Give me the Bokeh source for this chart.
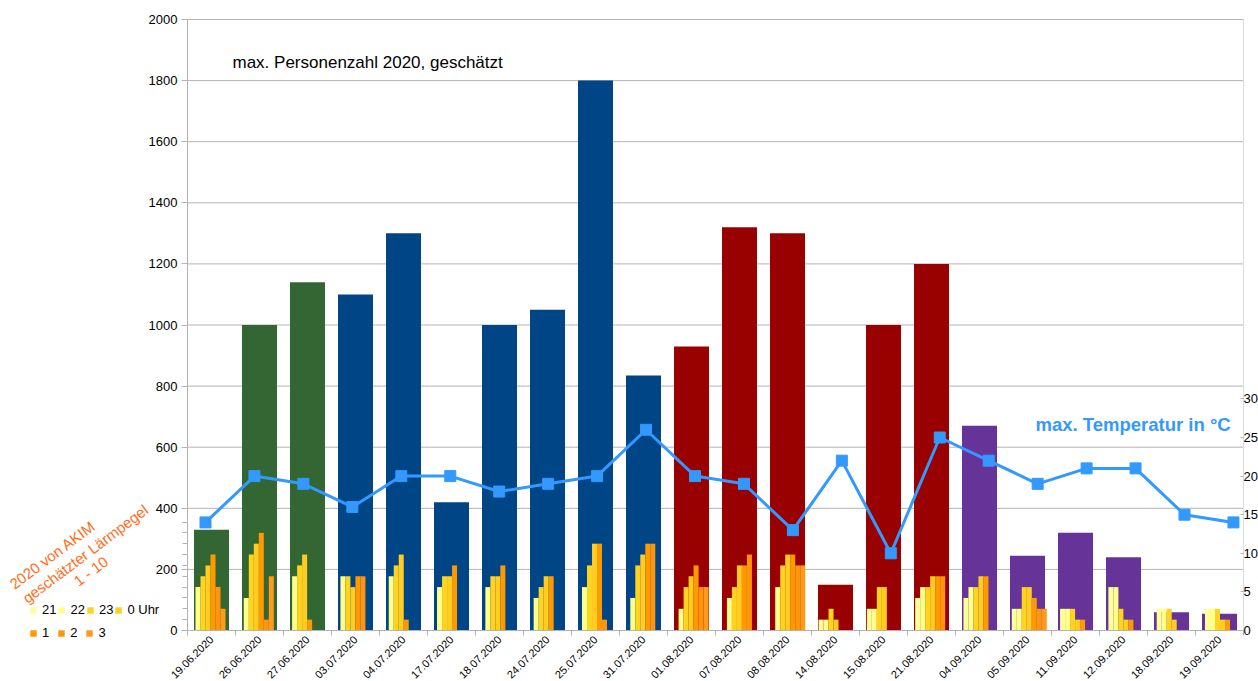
import math
from bokeh.plotting import figure
from bokeh.models import (Range1d, LinearAxis, FixedTicker, Label, Legend,
                          LegendItem)
from bokeh.embed import file_html
from bokeh.resources import INLINE

# ---------------- data ----------------
dates = ["19.06.2020", "26.06.2020", "27.06.2020", "03.07.2020", "04.07.2020",
         "17.07.2020", "18.07.2020", "24.07.2020", "25.07.2020", "31.07.2020",
         "01.08.2020", "07.08.2020", "08.08.2020", "14.08.2020", "15.08.2020",
         "21.08.2020", "04.09.2020", "05.09.2020", "11.09.2020", "12.09.2020",
         "18.09.2020", "19.09.2020"]
personen = [330, 1000, 1140, 1100, 1300, 420, 1000, 1050, 1800, 835,
            930, 1320, 1300, 150, 1000, 1200, 670, 245, 320, 240, 60, 55]
temperatur = [14, 20, 19, 16, 20, 20, 18, 19, 20, 26,
              20, 19, 13, 22, 10, 25, 22, 19, 21, 21, 15, 14]
laerm_labels = ["21", "22", "23", "0 Uhr", "1", "2", "3"]
laerm_21 = [0, 0, 0, 0, 0, 0, 0, 0, 0, 0, 0, 0, 0, 1, 2, 3, 3, 2, 2, 4, 2, 2]
laerm_22 = [4, 3, 5, 5, 5, 4, 4, 3, 4, 3, 2, 3, 4, 1, 2, 4, 4, 2, 2, 4, 2, 2]
laerm_23 = [5, 7, 6, 5, 6, 5, 5, 4, 6, 6, 4, 4, 6, 2, 4, 4, 4, 4, 2, 2, 2, 2]
laerm_00 = [6, 8, 7, 4, 7, 5, 5, 5, 8, 7, 5, 6, 7, 1, 4, 5, 5, 4, 1, 1, 1, 1]
laerm_01 = [7, 9, 1, 5, 1, 6, 6, 5, 8, 8, 6, 6, 7, 0, 0, 5, 5, 3, 1, 1, 0, 1]
laerm_02 = [4, 1, 0, 5, 0, 0, 0, 0, 1, 8, 4, 7, 6, 0, 0, 5, 0, 2, 0, 0, 0, 0]
laerm_03 = [2, 5, 0, 0, 0, 0, 0, 0, 0, 0, 4, 0, 6, 0, 0, 0, 0, 2, 0, 0, 0, 0]
laerm = [laerm_21, laerm_22, laerm_23, laerm_00, laerm_01, laerm_02, laerm_03]
y_ticks = list(range(0, 2001, 200))
temp_ticks = list(range(0, 31, 5))
title_main = "max. Personenzahl 2020, geschätzt"
title_temp = "max. Temperatur in °C"
title_laerm = ["2020 von AKIM", "geschätzter Lärmpegel", "1 - 10"]

# ---------------- styles / geometry (pixels) ----------------
FONT = "Liberation Sans"
month_colors = {"06": "#336633", "07": "#004586", "08": "#990000", "09": "#663399"}
laerm_colors = ["#ffff99", "#ffff8c", "#ffd320", "#ffcc22", "#ff9900", "#ff950e", "#ff9a1a"]
TEMP_COLOR = "#3399ff"
NOTE_COLOR = "#ff6d1a"
GRID = "#b3b3b3"

W, H = 1258, 681
F_L, F_R, F_T, F_B = 187, 1243, 19, 630      # plot area of the main chart
T_PX = 7.72                                   # pixels per °C (secondary chart)
N_PX = 10.85                                  # pixels per noise level (overlay chart)
TX_FIRST, TX_STEP = 205, 48.95                # temperature chart category layout
NX_FIRST, NX_STEP = 207.5, 48.31              # noise chart category layout

n = len(dates)
idx = list(range(n))
cat_w = (F_R - F_L) / n
ppu = (F_B - F_T) / 2000.0


def px2x(px):
    return (px - F_L) / cat_w - 0.5


def py2y(py):
    return (F_B - py) / ppu


p = figure(width=W, height=H, output_backend="svg", toolbar_location=None,
           x_range=Range1d(px2x(0), px2x(W)), y_range=Range1d(py2y(H), py2y(0)),
           min_border=0)
p.outline_line_color = None
p.background_fill_color = "white"
p.border_fill_color = "white"
p.xgrid.visible = False
p.ygrid.visible = False

p.extra_y_ranges = {"temp": Range1d(-(H - F_B) / T_PX, F_B / T_PX),
                    "noise": Range1d(-(H - F_B) / N_PX, F_B / N_PX)}
p.extra_x_ranges = {"tx": Range1d(-TX_FIRST / TX_STEP, (W - TX_FIRST) / TX_STEP),
                    "nx": Range1d(-NX_FIRST / NX_STEP, (W - NX_FIRST) / NX_STEP)}

# horizontal grid lines over the category span
p.segment(x0=-0.5, x1=n - 0.5, y0=y_ticks, y1=y_ticks, line_color=GRID, line_width=1)

# main bars
bar_colors = [month_colors[d[3:5]] for d in dates]
p.vbar(x=idx, top=personen, width=0.729, fill_color=bar_colors, line_color=None)

# noise bars
w = 5.0 / NX_STEP
noise_renderers = []
for j, vals in enumerate(laerm):
    r = p.vbar(x=[i + (j - 3) * w for i in idx], top=vals, width=w,
               x_range_name="nx", y_range_name="noise",
               fill_color=laerm_colors[j], line_color=None)
    noise_renderers.append(r)

# temperature
p.line(x=idx, y=temperatur, x_range_name="tx", y_range_name="temp",
       line_color=TEMP_COLOR, line_width=3)
p.scatter(x=idx, y=temperatur, x_range_name="tx", y_range_name="temp",
          marker="square", size=11, fill_color=TEMP_COLOR, line_color=TEMP_COLOR)

# left axis
yax = p.yaxis[0]
yax.fixed_location = -0.5
yax.bounds = (0, 2000)
yax.ticker = FixedTicker(ticks=y_ticks,
                         minor_ticks=[k * N_PX / ppu for k in range(1, 11)])
yax.axis_line_color = GRID
yax.major_tick_line_color = GRID
yax.minor_tick_line_color = GRID
yax.major_tick_out = 6
yax.major_tick_in = 0
yax.minor_tick_out = 5
yax.minor_tick_in = 0
yax.major_label_text_font = FONT
yax.major_label_text_font_size = "13px"
yax.major_label_text_color = "#000000"
yax.major_label_standoff = 4

# category axis
xax = p.xaxis[0]
xax.fixed_location = 0
xax.bounds = (-0.5, n - 0.5)
xax.ticker = FixedTicker(ticks=idx, minor_ticks=[i - 0.5 for i in range(n + 1)])
xax.major_label_overrides = {i: d for i, d in enumerate(dates)}
xax.major_label_orientation = math.pi / 4
xax.major_tick_out = 0
xax.major_tick_in = 0
xax.minor_tick_out = 5
xax.minor_tick_in = 0
xax.axis_line_color = GRID
xax.minor_tick_line_color = GRID
xax.major_label_text_font = FONT
xax.major_label_text_font_size = "11px"
xax.major_label_text_color = "#000000"
xax.major_label_standoff = 2

# temperature axis
tax = LinearAxis(y_range_name="temp", ticker=FixedTicker(ticks=temp_ticks),
                 fixed_location=n - 0.5, bounds=(0, (F_B - F_T) / T_PX))
tax.axis_line_color = "#dddddd"
tax.major_tick_line_color = GRID
tax.major_tick_in = 3
tax.major_tick_out = 0
tax.minor_tick_line_color = None
tax.major_label_text_font = FONT
tax.major_label_text_font_size = "13px"
tax.major_label_text_color = "#000000"
tax.major_label_standoff = 0
p.add_layout(tax, "right")

# texts
p.add_layout(Label(x=px2x(232), y=py2y(62), text=title_main,
                   text_font=FONT, text_font_size="17px", text_color="#000000",
                   text_baseline="middle"))
p.add_layout(Label(x=px2x(1035), y=py2y(424), text=title_temp,
                   text_font=FONT, text_font_size="18.5px", text_font_style="bold",
                   text_color=TEMP_COLOR, text_baseline="middle"))
note_anchor = [(16, 592), (29, 606), (80, 589)]
for txt, (lx, ly) in zip(title_laerm, note_anchor):
    p.add_layout(Label(x=px2x(lx), y=py2y(ly), text=txt, angle=math.radians(37),
                       text_align="left", text_baseline="bottom",
                       text_font=FONT, text_font_size="15px", text_color=NOTE_COLOR))


def make_legend(rs, labels, loc, spacing):
    return Legend(items=[LegendItem(label=l, renderers=[r]) for l, r in zip(labels, rs)],
                  orientation="horizontal", location=loc, padding=0, margin=0,
                  spacing=spacing, glyph_width=8, glyph_height=8, label_standoff=5,
                  label_width=0, label_height=8, label_text_font=FONT,
                  label_text_font_size="13px", label_text_color="#000000",
                  background_fill_alpha=0, border_line_color=None)


p.add_layout(make_legend(noise_renderers[:4], laerm_labels[:4], (29, 64), 1))
p.add_layout(make_legend(noise_renderers[4:], laerm_labels[4:], (29, 41), 8))

open("out.html", "w").write(file_html(p, INLINE))
